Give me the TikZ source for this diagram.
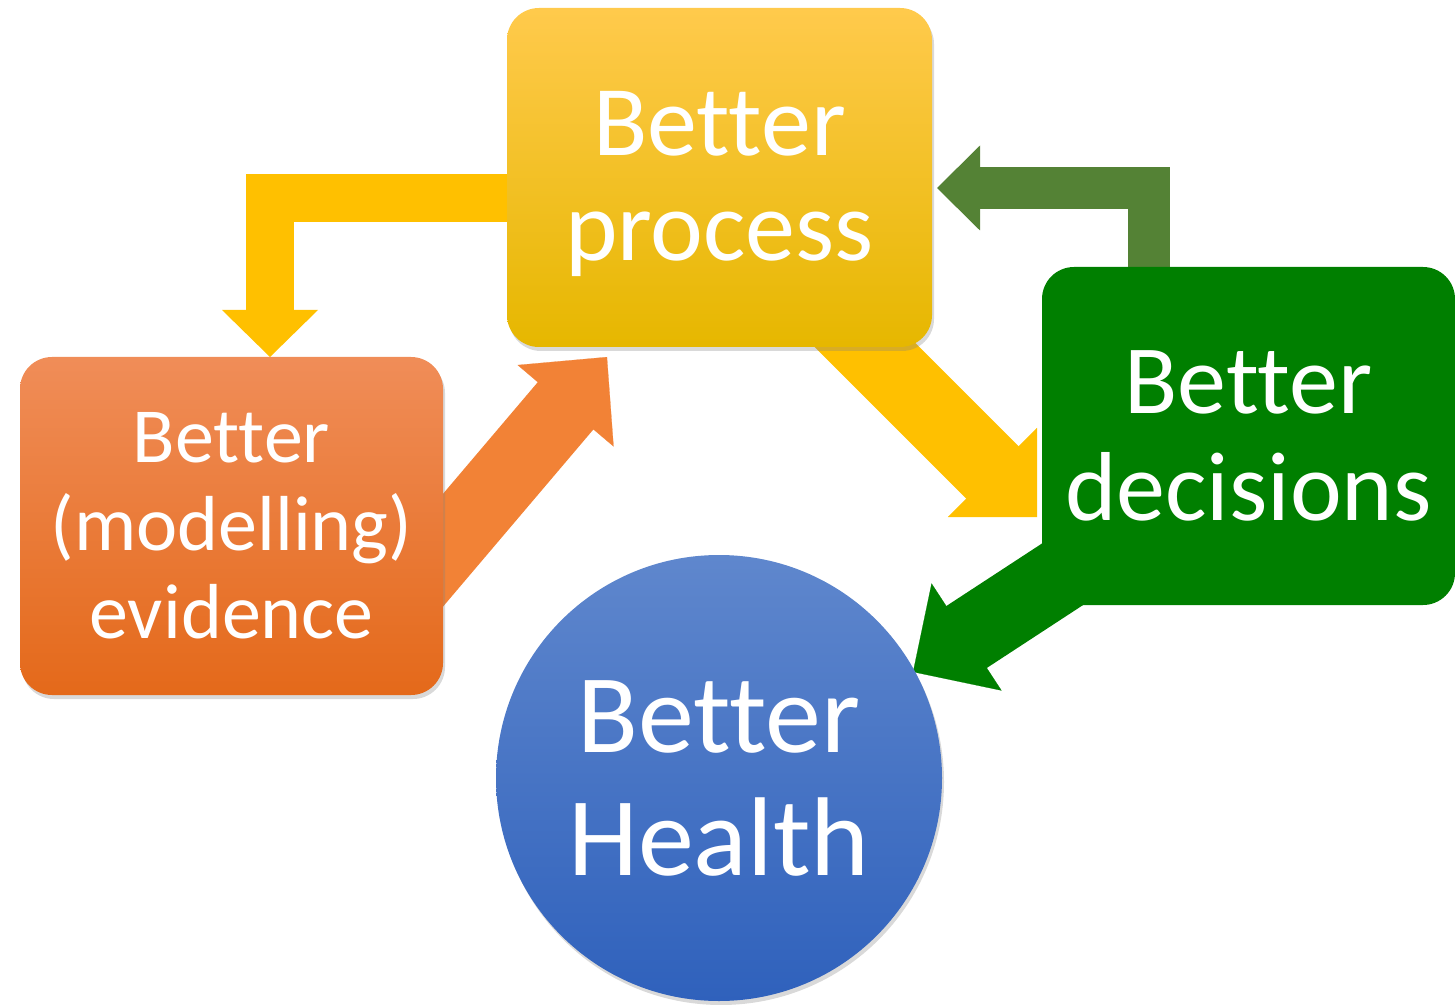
\documentclass[tikz,border=0pt]{standalone}
\usepackage{fontspec}
\setmainfont{Carlito}[Ligatures=CommonOff]
\usetikzlibrary{arrows.meta,shadows,backgrounds}

\definecolor{procTop}{HTML}{FFCA4C}
\definecolor{procBot}{HTML}{E6B700}
\definecolor{arrowYellow}{HTML}{FFC000}
\definecolor{evidTop}{HTML}{F08D58}
\definecolor{evidBot}{HTML}{E4691A}
\definecolor{arrowOrange}{HTML}{F28236}
\definecolor{decGreen}{HTML}{007F00}
\definecolor{loopGreen}{HTML}{548235}
\definecolor{healthTop}{HTML}{5F87CD}
\definecolor{healthBot}{HTML}{2F61BC}

\tikzset{
  box/.style={rounded corners=16pt, text=white, align=center, inner sep=0pt},
  softshadow/.style={drop shadow={opacity=0.3,shadow xshift=1pt,shadow yshift=-2pt}},
  blockarrow/.style={line join=miter, line cap=butt},
  blockhead/.style 2 args={line width=0.1pt, -{Triangle[length=#1,width=#2]}},
}

\begin{document}
\begin{tikzpicture}[x=0.5pt,y=-0.5pt]
  \useasboundingbox (0,0) rectangle (1455,1005);

  % the four steps
  \node[box, softshadow, top color=procTop, middle color=arrowYellow, bottom color=procBot,
        minimum width=212.5pt, minimum height=169.5pt,
        font=\fontsize{50}{52.5}\selectfont] (process) at (719.5,177.5) {\rule{0pt}{38.6pt}Better\\process};
  \node[box, softshadow, top color=evidTop, bottom color=evidBot,
        minimum width=211.5pt, minimum height=169pt,
        font=\fontsize{39}{44}\selectfont] (evidence) at (231.5,526) {Better\\(modelling)\\evidence};
  \node[box, fill=decGreen,
        minimum width=206.5pt, minimum height=169pt,
        font=\fontsize{49}{53.5}\selectfont] (decisions) at (1248.5,436) {Better\\decisions};
  \node[circle, softshadow, text=white, align=center, inner sep=0pt,
        top color=healthTop, bottom color=healthBot, minimum size=223pt,
        font=\fontsize{56}{61.5}\selectfont] (health) at (719,778) {Better\\Health};

  % free ends of the block arrows
  \coordinate (ytip) at (270,357);
  \coordinate (gstart) at (1149,436);
  \coordinate (gtip) at (937,188);
  \coordinate (ostart) at (405,595);
  \coordinate (otip) at (607,357);
  \coordinate (dstart) at (820,300);
  \coordinate (dtip) at (1037,517);
  \coordinate (cstart) at (1092,555);
  \coordinate (ctip) at (913,672);

  \begin{scope}[on background layer]
    % bent arrows
    \draw[blockarrow, arrowYellow, line width=24pt,
          -{Triangle[length=23.5pt,width=48pt,line width=0pt]}]
      (process.center |- 0,198) -| (ytip);
    \draw[blockarrow, loopGreen, line width=21pt,
          -{Triangle[length=21.5pt,width=42.5pt,line width=0pt]}]
      (gstart) |- (gtip);
    % straight arrows: shaft, then head
    \draw[blockarrow, arrowOrange, line width=36.5pt, shorten >=25pt] (ostart) -- (otip);
    \draw[arrowOrange, blockhead={32pt}{63pt}] (ostart) -- (otip);
    \draw[blockarrow, arrowYellow, line width=37pt, shorten >=25pt] (dstart) -- (dtip);
    \draw[arrowYellow, blockhead={31.5pt}{63pt}] (dstart) -- (dtip);
    \draw[blockarrow, decGreen, line width=37pt, shorten >=25pt] (cstart) -- (ctip);
    \draw[decGreen, blockhead={32pt}{64pt}] (cstart) -- (ctip);
  \end{scope}
\end{tikzpicture}
\end{document}
